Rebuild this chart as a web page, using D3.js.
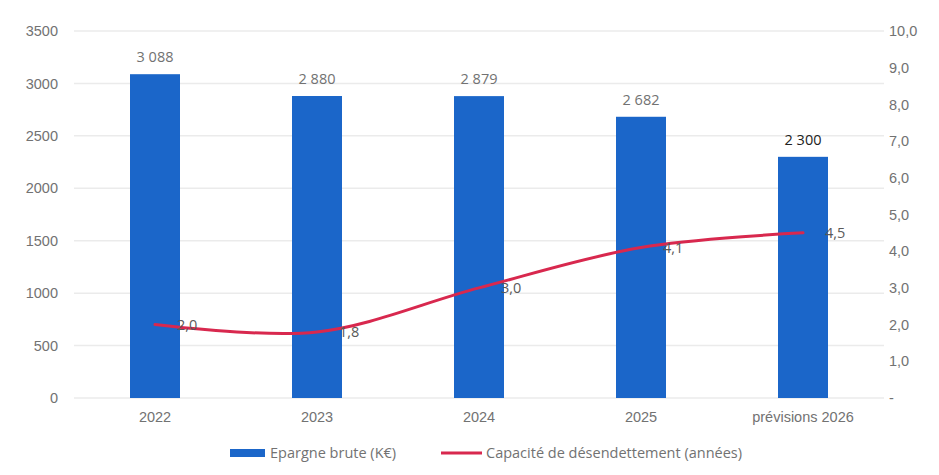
<!DOCTYPE html>
<html>
<head>
<meta charset="utf-8">
<script src="https://cdn.jsdelivr.net/npm/d3@7"></script>
<style>
  body { margin: 0; background: #fff; }
  svg { display: block; font-family: "Open Sans", "Noto Sans", sans-serif; }
  .tick text { fill: #727272; font-size: 14.5px; }
</style>
</head>
<body>
<svg id="chart" width="939" height="475"></svg>
<script>
// chart values
var categories = ["2022", "2023", "2024", "2025", "prévisions 2026"];
var savings = [3088, 2880, 2879, 2682, 2300];          // Epargne brute (K€)
var capacity = [2.0, 1.8, 3.0, 4.1, 4.5];              // Capacité de désendettement (années)
var leftTicks = [0, 500, 1000, 1500, 2000, 2500, 3000, 3500];
var rightTicks = [0, 1, 2, 3, 4, 5, 6, 7, 8, 9, 10];
var savingsLabels = ["3 088", "2 880", "2 879", "2 682", "2 300"];

(function(){
    var LEFT = 74, RIGHT = 884, TOP = 31, BOTTOM = 398;

    var BAR_COLOR = "#1b66c9";
    var LINE_COLOR = "#d8284e";
    var GRID_COLOR = "#ebebeb";
    var TEXT_COLOR = "#727272";
    var FONT_SIZE = "14.5px";

    var svg = d3.select("#chart");

    var x = d3.scaleBand().domain(categories).range([LEFT, RIGHT]).padding(0);
    var yLeft = d3.scaleLinear().domain([0, 3500]).range([BOTTOM, TOP]);
    var yRight = d3.scaleLinear().domain([0, 10]).range([BOTTOM, TOP]);
    var BAR_W = 50;

    // gridlines
    svg.append("g")
        .selectAll("line")
        .data(leftTicks)
        .enter()
        .append("line")
        .attr("x1", LEFT)
        .attr("x2", RIGHT)
        .attr("y1", function(d) { return yLeft(d); })
        .attr("y2", function(d) { return yLeft(d); })
        .attr("stroke", GRID_COLOR)
        .attr("stroke-width", 1.5);

    // left axis
    var gl = svg.append("g")
        .attr("transform", "translate(" + (LEFT - 16) + ",0)")
        .call(d3.axisLeft(yLeft).tickValues(leftTicks).tickSize(0).tickPadding(0).tickFormat(d3.format("d")));
    gl.select(".domain").remove();

    // right axis
    var gr = svg.append("g")
        .attr("transform", "translate(" + (RIGHT + 5) + ",0)")
        .call(d3.axisRight(yRight).tickValues(rightTicks).tickSize(0).tickPadding(0)
            .tickFormat(function(d) { return d === 0 ? "-" : d.toFixed(1).replace(".", ","); }));
    gr.select(".domain").remove();

    // bottom axis
    var gb = svg.append("g")
        .attr("transform", "translate(0," + (BOTTOM + 14) + ")")
        .call(d3.axisBottom(x).tickSize(0).tickPadding(0));
    gb.select(".domain").remove();
    gb.selectAll("text").attr("dy", "0.71em");

    // bars
    svg.append("g")
        .selectAll("rect")
        .data(savings)
        .enter()
        .append("rect")
        .attr("x", function(d, i) { return x(categories[i]) + x.bandwidth() / 2 - BAR_W / 2; })
        .attr("y", function(d) { return yLeft(d); })
        .attr("width", BAR_W)
        .attr("height", function(d) { return yLeft(0) - yLeft(d); })
        .attr("fill", BAR_COLOR);

    // bar labels
    svg.append("g")
        .selectAll("text")
        .data(savings)
        .enter()
        .append("text")
        .attr("x", function(d, i) { return x(categories[i]) + x.bandwidth() / 2; })
        .attr("y", function(d) { return yLeft(d) - 12; })
        .attr("text-anchor", "middle")
        .attr("font-size", FONT_SIZE)
        .attr("fill", function(d, i) { return i === savings.length - 1 ? "#222" : TEXT_COLOR; })
        .text(function(d, i) { return savingsLabels[i]; });

    // line
    var line = d3.line()
        .x(function(d, i) { return x(categories[i]) + x.bandwidth() / 2; })
        .y(function(d) { return yRight(d); })
        .curve(d3.curveCatmullRom.alpha(0.5));

    svg.append("path")
        .datum(capacity)
        .attr("d", line)
        .attr("fill", "none")
        .attr("stroke", LINE_COLOR)
        .attr("stroke-width", 3)
        .attr("stroke-linecap", "round");

    // line labels
    svg.append("g")
        .selectAll("text")
        .data(capacity)
        .enter()
        .append("text")
        .attr("x", function(d, i) { return x(categories[i]) + x.bandwidth() / 2 + 22; })
        .attr("y", function(d) { return yRight(d); })
        .attr("dy", "0.35em")
        .attr("font-size", FONT_SIZE)
        .attr("fill", "#5a5a5a")
        .text(function(d) { return d.toFixed(1).replace(".", ","); });

    // legend
    var lg = svg.append("g").attr("transform", "translate(0,453)");
    lg.append("rect")
        .attr("x", 230).attr("y", -4).attr("width", 35).attr("height", 8)
        .attr("fill", BAR_COLOR);
    lg.append("text")
        .attr("x", 270).attr("y", 0).attr("dy", "0.35em")
        .attr("font-size", FONT_SIZE).attr("fill", TEXT_COLOR)
        .text("Epargne brute (K€)");
    lg.append("line")
        .attr("x1", 441).attr("x2", 482).attr("y1", 0).attr("y2", 0)
        .attr("stroke", LINE_COLOR).attr("stroke-width", 3);
    lg.append("text")
        .attr("x", 486).attr("y", 0).attr("dy", "0.35em")
        .attr("font-size", FONT_SIZE).attr("fill", TEXT_COLOR)
        .text("Capacité de désendettement (années)");
})();
</script>
</body>
</html>
